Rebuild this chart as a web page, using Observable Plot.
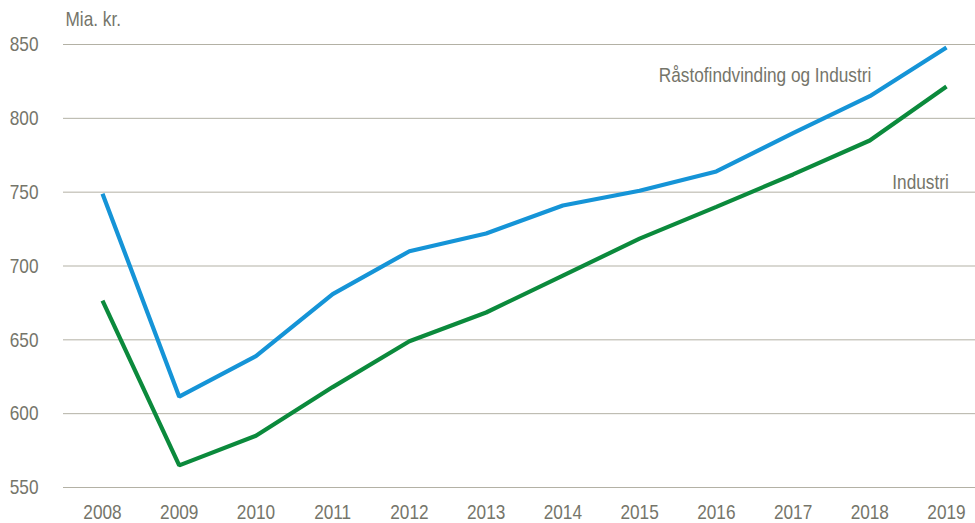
<!DOCTYPE html>
<html><head><meta charset="utf-8">
<script src="https://cdn.jsdelivr.net/npm/d3@7"></script>
<script src="https://cdn.jsdelivr.net/npm/@observablehq/plot@0.6"></script>
<style>body{margin:0;background:#fff;} svg{display:block;}</style>
</head><body><div id="chart"></div>
<script>
const years = [2008,2009,2010,2011,2012,2013,2014,2015,2016,2017,2018,2019];
const raastofOgIndustri = [749,611.5,639,681,710,722,741,751,764,790,815,848];
const industri = [676.5,565,585,618,649,668.5,693.5,718.5,740,762,785,821.5];
const yTicks = [550,600,650,700,750,800,850];
const seriesNames = ["Råstofindvinding og Industri","Industri"];
const colors = ["#1594d7","#0b8a3c"];
const labelPos = [{name: seriesNames[0], x: 2018.02, y: 829}, {name: seriesNames[1], x: 2019.03, y: 757}];

const data = [];
years.forEach((yr,i)=>{
  data.push({year: yr, value: raastofOgIndustri[i], series: seriesNames[0]});
  data.push({year: yr, value: industri[i], series: seriesNames[1]});
});
const textColor = "#75756a";
const font = "'Liberation Sans', Arial, sans-serif";

const chart = Plot.plot({
  width: 975, height: 523,
  marginLeft: 102, marginRight: 29, marginTop: 44, marginBottom: 36,
  style: {fontFamily: font, fontSize: "21px", color: textColor, background: "#fff"},
  x: {domain: [2008, 2019], ticks: years, tickFormat: d => String(d)},
  y: {domain: [550, 850], ticks: yTicks},
  color: {domain: seriesNames, range: colors},
  marks: [
    Plot.ruleY(yTicks, {stroke: "#b3b1a5", strokeWidth: 1, insetLeft: -39, insetRight: -29}),
    Plot.axisX({ticks: years, tickSize: 0, tickPadding: 17, tickFormat: d => String(d), label: null, fill: textColor, fontSize: 21}),
    Plot.axisY({ticks: yTicks, tickSize: 0, tickPadding: 64, label: null, fill: textColor, fontSize: 21}),
    Plot.line(data, {x: "year", y: "value", z: "series", stroke: "series", strokeWidth: 4.2, strokeLinejoin: "miter", strokeLinecap: "butt"}),
    Plot.text(labelPos, {x: "x", y: "y", text: "name", textAnchor: "end", fill: textColor, fontSize: 21}),
    Plot.text(["Mia. kr."], {frameAnchor: "top-left", dx: -37, dy: -33, fill: textColor, fontSize: 21, textAnchor: "start", lineAnchor: "top"})
  ]
});
document.getElementById("chart").appendChild(chart);
// Emulate a narrow (Arial Narrow-like) face by condensing glyphs horizontally
chart.querySelectorAll("text").forEach(t => {
  const w = t.getComputedTextLength();
  if (w > 0) {
    t.setAttribute("textLength", (w * 0.82).toFixed(2));
    t.setAttribute("lengthAdjust", "spacingAndGlyphs");
  }
});
</script>
</body></html>
